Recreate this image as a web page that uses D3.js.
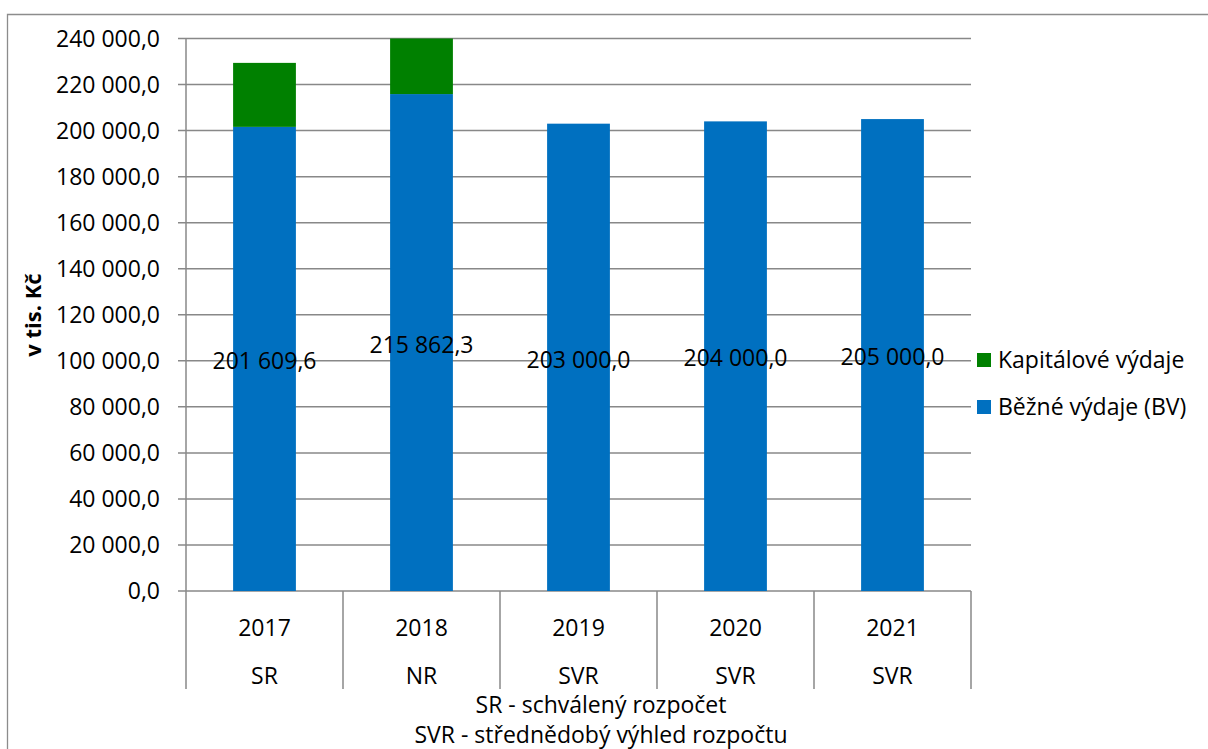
<!DOCTYPE html>
<html><head><meta charset="utf-8">
<script src="https://cdn.jsdelivr.net/npm/d3@7"></script>
<style>
body{margin:0;background:#fff;}
svg text{font-family:"Open Sans",sans-serif;fill:#000;}
</style></head>
<body><svg id="c" width="1208" height="749"></svg>
<script>
const years = ["2017","2018","2019","2020","2021"];
const budgetTypes = ["SR","NR","SVR","SVR","SVR"];
const currentExp = [201609.6, 215862.3, 203000.0, 204000.0, 205000.0];
const capitalExp = [27800, 26000, 0, 0, 0];
const yTicks = [0,20000,40000,60000,80000,100000,120000,140000,160000,180000,200000,220000,240000];
const seriesNames = ["Kapitálové výdaje","Běžné výdaje (BV)"];
const colors = ["#008000","#0070C0"];
const notes = ["SR - schválený rozpočet","SVR - střednědobý výhled rozpočtu"];

const svg = d3.select("#c");
const L=186, R=971, T=38.5, B=591, SEPB=689;
const FS = "23px";
const fmt = v => { const s = d3.format(",.1f")(v); return s.replace(/,/g," ").replace(".",","); };

// outer frame
svg.append("path").attr("d","M7.5,749 V14.5 H1208").attr("fill","none").attr("stroke","#8c8c8c").attr("stroke-width",1.3);

const y = d3.scaleLinear().domain([0,240000]).range([B,T]);
const x = d3.scaleBand().domain(years).range([L,R]).paddingInner(0.6).paddingOuter(0.3);

// gridlines
svg.append("g").selectAll("line").data(yTicks).join("line")
  .attr("x1",178).attr("x2",R).attr("y1",d=>y(d)).attr("y2",d=>y(d))
  .attr("stroke","#888").attr("stroke-width",1.5);

// y tick labels
svg.append("g").selectAll("text").data(yTicks).join("text")
  .attr("x",160).attr("y",d=>y(d)).attr("dy","0.36em").attr("text-anchor","end")
  .style("font-size",FS).text(fmt);

// clip
svg.append("clipPath").attr("id","pc").append("rect").attr("x",L).attr("y",T).attr("width",R-L).attr("height",B-T);

const gb = svg.append("g").attr("clip-path","url(#pc)");
gb.selectAll("rect.cur").data(years).join("rect").attr("class","cur")
  .attr("x",d=>x(d)).attr("width",x.bandwidth())
  .attr("y",(d,i)=>y(currentExp[i])).attr("height",(d,i)=>B-y(currentExp[i]))
  .attr("fill",colors[1]);
gb.selectAll("rect.cap").data(years).join("rect").attr("class","cap")
  .attr("x",d=>x(d)).attr("width",x.bandwidth())
  .attr("y",(d,i)=>y(currentExp[i]+capitalExp[i])).attr("height",(d,i)=>y(currentExp[i])-y(currentExp[i]+capitalExp[i]))
  .attr("fill",colors[0]);

// axis lines and category separators
svg.append("line").attr("x1",L).attr("x2",L).attr("y1",T).attr("y2",SEPB).attr("stroke","#888").attr("stroke-width",1.5);
const seps = years.map(d=>x(d)-x.step()*x.paddingInner()/2).concat([R]);
svg.append("g").selectAll("line").data(seps.slice(1)).join("line")
  .attr("x1",d=>d).attr("x2",d=>d).attr("y1",B).attr("y2",SEPB).attr("stroke","#888").attr("stroke-width",1.5);

// data labels
svg.append("g").selectAll("text").data(years).join("text")
  .attr("x",d=>x(d)+x.bandwidth()/2).attr("y",(d,i)=>y(currentExp[i]/2)+2).attr("dy","0.36em")
  .attr("text-anchor","middle").style("font-size",FS).text((d,i)=>fmt(currentExp[i]));

// category labels
svg.append("g").selectAll("text").data(years).join("text")
  .attr("x",d=>x(d)+x.bandwidth()/2).attr("y",628).attr("dy","0.36em")
  .attr("text-anchor","middle").style("font-size",FS).text(d=>d);
svg.append("g").selectAll("text").data(budgetTypes).join("text")
  .attr("x",(d,i)=>x(years[i])+x.bandwidth()/2).attr("y",676).attr("dy","0.36em")
  .attr("text-anchor","middle").style("font-size",FS).text(d=>d);

// notes
svg.append("g").selectAll("text").data(notes).join("text")
  .attr("x",601).attr("y",(d,i)=>705+i*30).attr("dy","0.36em").attr("text-anchor","middle")
  .style("font-size",FS).text(d=>d);

// y axis title
svg.append("text").attr("transform","translate(41,315) rotate(-90)").attr("text-anchor","middle")
  .style("font-size","22px").style("font-weight","bold").text("v tis. Kč");

// legend
const lg = svg.append("g").selectAll("g").data(seriesNames).join("g")
  .attr("transform",(d,i)=>`translate(977,${353+i*47})`);
lg.append("rect").attr("width",14).attr("height",14).attr("fill",(d,i)=>colors[i]);
lg.append("text").attr("x",21).attr("y",7).attr("dy","0.36em").style("font-size",FS).text(d=>d);
</script></body></html>
